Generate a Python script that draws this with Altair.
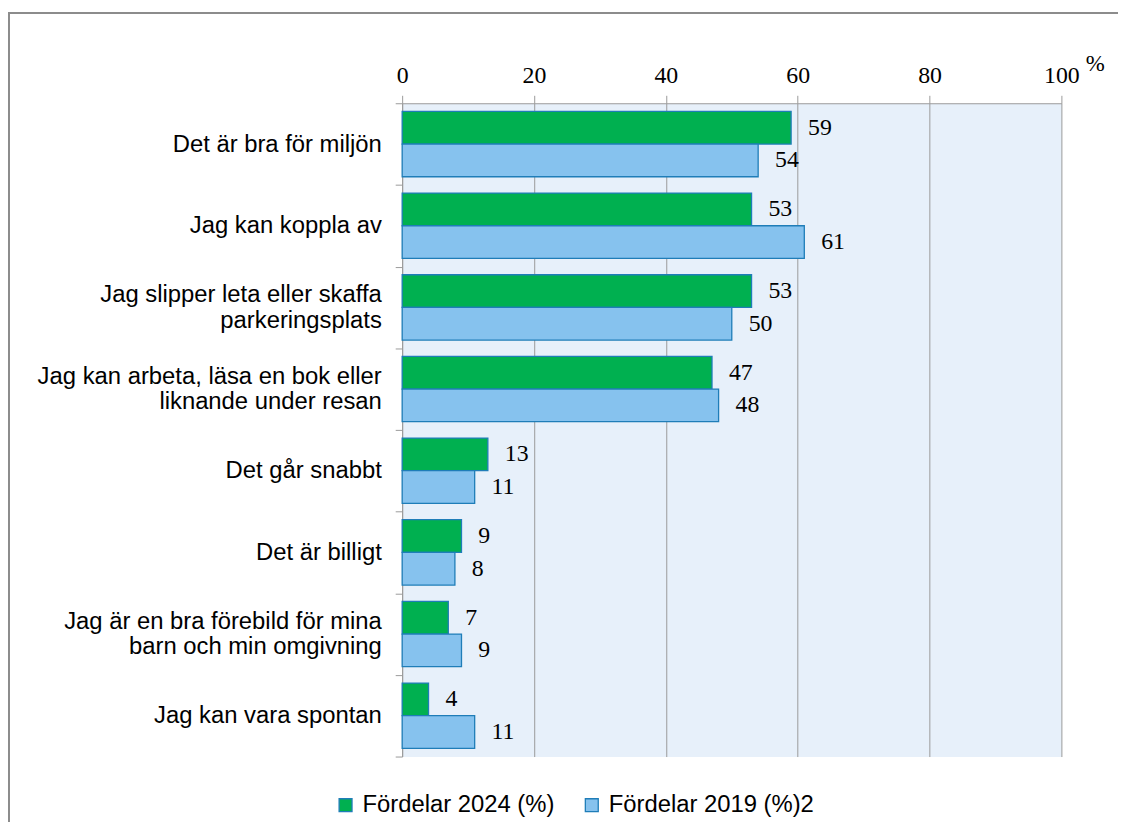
import altair as alt
import pandas as pd

categories = [
    "Det är bra för miljön",
    "Jag kan koppla av",
    "Jag slipper leta eller skaffa|parkeringsplats",
    "Jag kan arbeta, läsa en bok eller|liknande under resan",
    "Det går snabbt",
    "Det är billigt",
    "Jag är en bra förebild för mina|barn och min omgivning",
    "Jag kan vara spontan",
]
series_names = ["Fördelar 2024 (%)", "Fördelar 2019 (%)2"]
values_2024 = [59, 53, 53, 47, 13, 9, 7, 4]
values_2019 = [54, 61, 50, 48, 11, 8, 9, 11]
x_ticks = [0, 20, 40, 60, 80, 100]

rows = []
for c, a, b in zip(categories, values_2024, values_2019):
    rows.append({"cat": c, "series": series_names[0], "value": a})
    rows.append({"cat": c, "series": series_names[1], "value": b})
df = pd.DataFrame(rows)

y_enc = alt.Y(
    "cat:N",
    sort=categories,
    scale=alt.Scale(paddingInner=0, paddingOuter=0),
    axis=alt.Axis(
        title=None,
        tickBand="extent",
        labelExpr="isValid(datum.value) ? split(datum.value, '|') : ''",
        labelFont="Liberation Sans",
        labelFontSize=24,
        labelLineHeight=26,
        labelColor="black",
        labelPadding=14,
        labelLimit=0,
        labelOffset=alt.condition(
            "isValid(datum.value) && indexof(datum.value, '|') >= 0",
            alt.value(-13),
            alt.value(0),
        ),
        tickSize=7,
        tickColor="#9A9A9A",
        domainColor="#9A9A9A",
        grid=False,
    ),
)
yoff_enc = alt.YOffset(
    "series:N", sort=series_names, scale=alt.Scale(paddingOuter=0.25, paddingInner=0)
)
x_enc = alt.X(
    "value:Q",
    scale=alt.Scale(domain=[0, 100]),
    axis=alt.Axis(
        orient="top",
        values=x_ticks,
        grid=True,
        gridColor="#9A9A9A",
        domainColor="#9A9A9A",
        tickColor="#9A9A9A",
        tickSize=8,
        labelFont="Liberation Serif",
        labelFontSize=24,
        labelColor="black",
        labelPadding=8,
        labelFlush=False,
        title="%",
        titleFont="Liberation Serif",
        titleFontSize=23,
        titleFontWeight="normal",
        titleColor="black",
        titleX=688,
        titleY=-33,
        titleAlign="left",
        titleBaseline="alphabetic",
        titleAngle=0,
    ),
)

bars = alt.Chart(df).mark_bar(stroke="#1F7DB8", strokeWidth=1.3).encode(
    y=y_enc,
    yOffset=yoff_enc,
    x=x_enc,
    color=alt.Color(
        "series:N",
        sort=series_names,
        scale=alt.Scale(domain=series_names, range=["#00B050", "#86C2EE"]),
        legend=alt.Legend(
            title=None,
            orient="none",
            direction="horizontal",
            legendX=-69,
            legendY=695,
            symbolType="square",
            symbolSize=169,
            symbolStrokeColor="#1F7DB8",
            symbolStrokeWidth=1.3,
            labelFont="Liberation Sans",
            labelFontSize=24,
            labelColor="black",
            labelOffset=5,
            labelLimit=0,
            columnPadding=25,
            padding=0,
        ),
    ),
)

labels = alt.Chart(df).mark_text(
    align="left", baseline="middle", dx=17, font="Liberation Serif", fontSize=24, color="black"
).encode(y=y_enc, yOffset=yoff_enc, x=x_enc, text="value:Q")

border = alt.Chart(pd.DataFrame({"k": [0]})).mark_rect(
    fill="transparent", stroke="#8C8C8C", strokeWidth=2
).encode(
    x=alt.value(-396), x2=alt.value(900), y=alt.value(-91), y2=alt.value(900)
)

chart = (
    alt.layer(bars, labels, border)
    .properties(
        width=664,
        height=658,
        autosize=alt.AutoSizeParams(type="none"),
        padding={"left": 397, "top": 93, "right": 57, "bottom": 63},
    )
    .configure_view(fill="#E7F0FA", stroke="transparent")
)

chart.save("out.html", embed_options={"renderer": "svg", "actions": False})
